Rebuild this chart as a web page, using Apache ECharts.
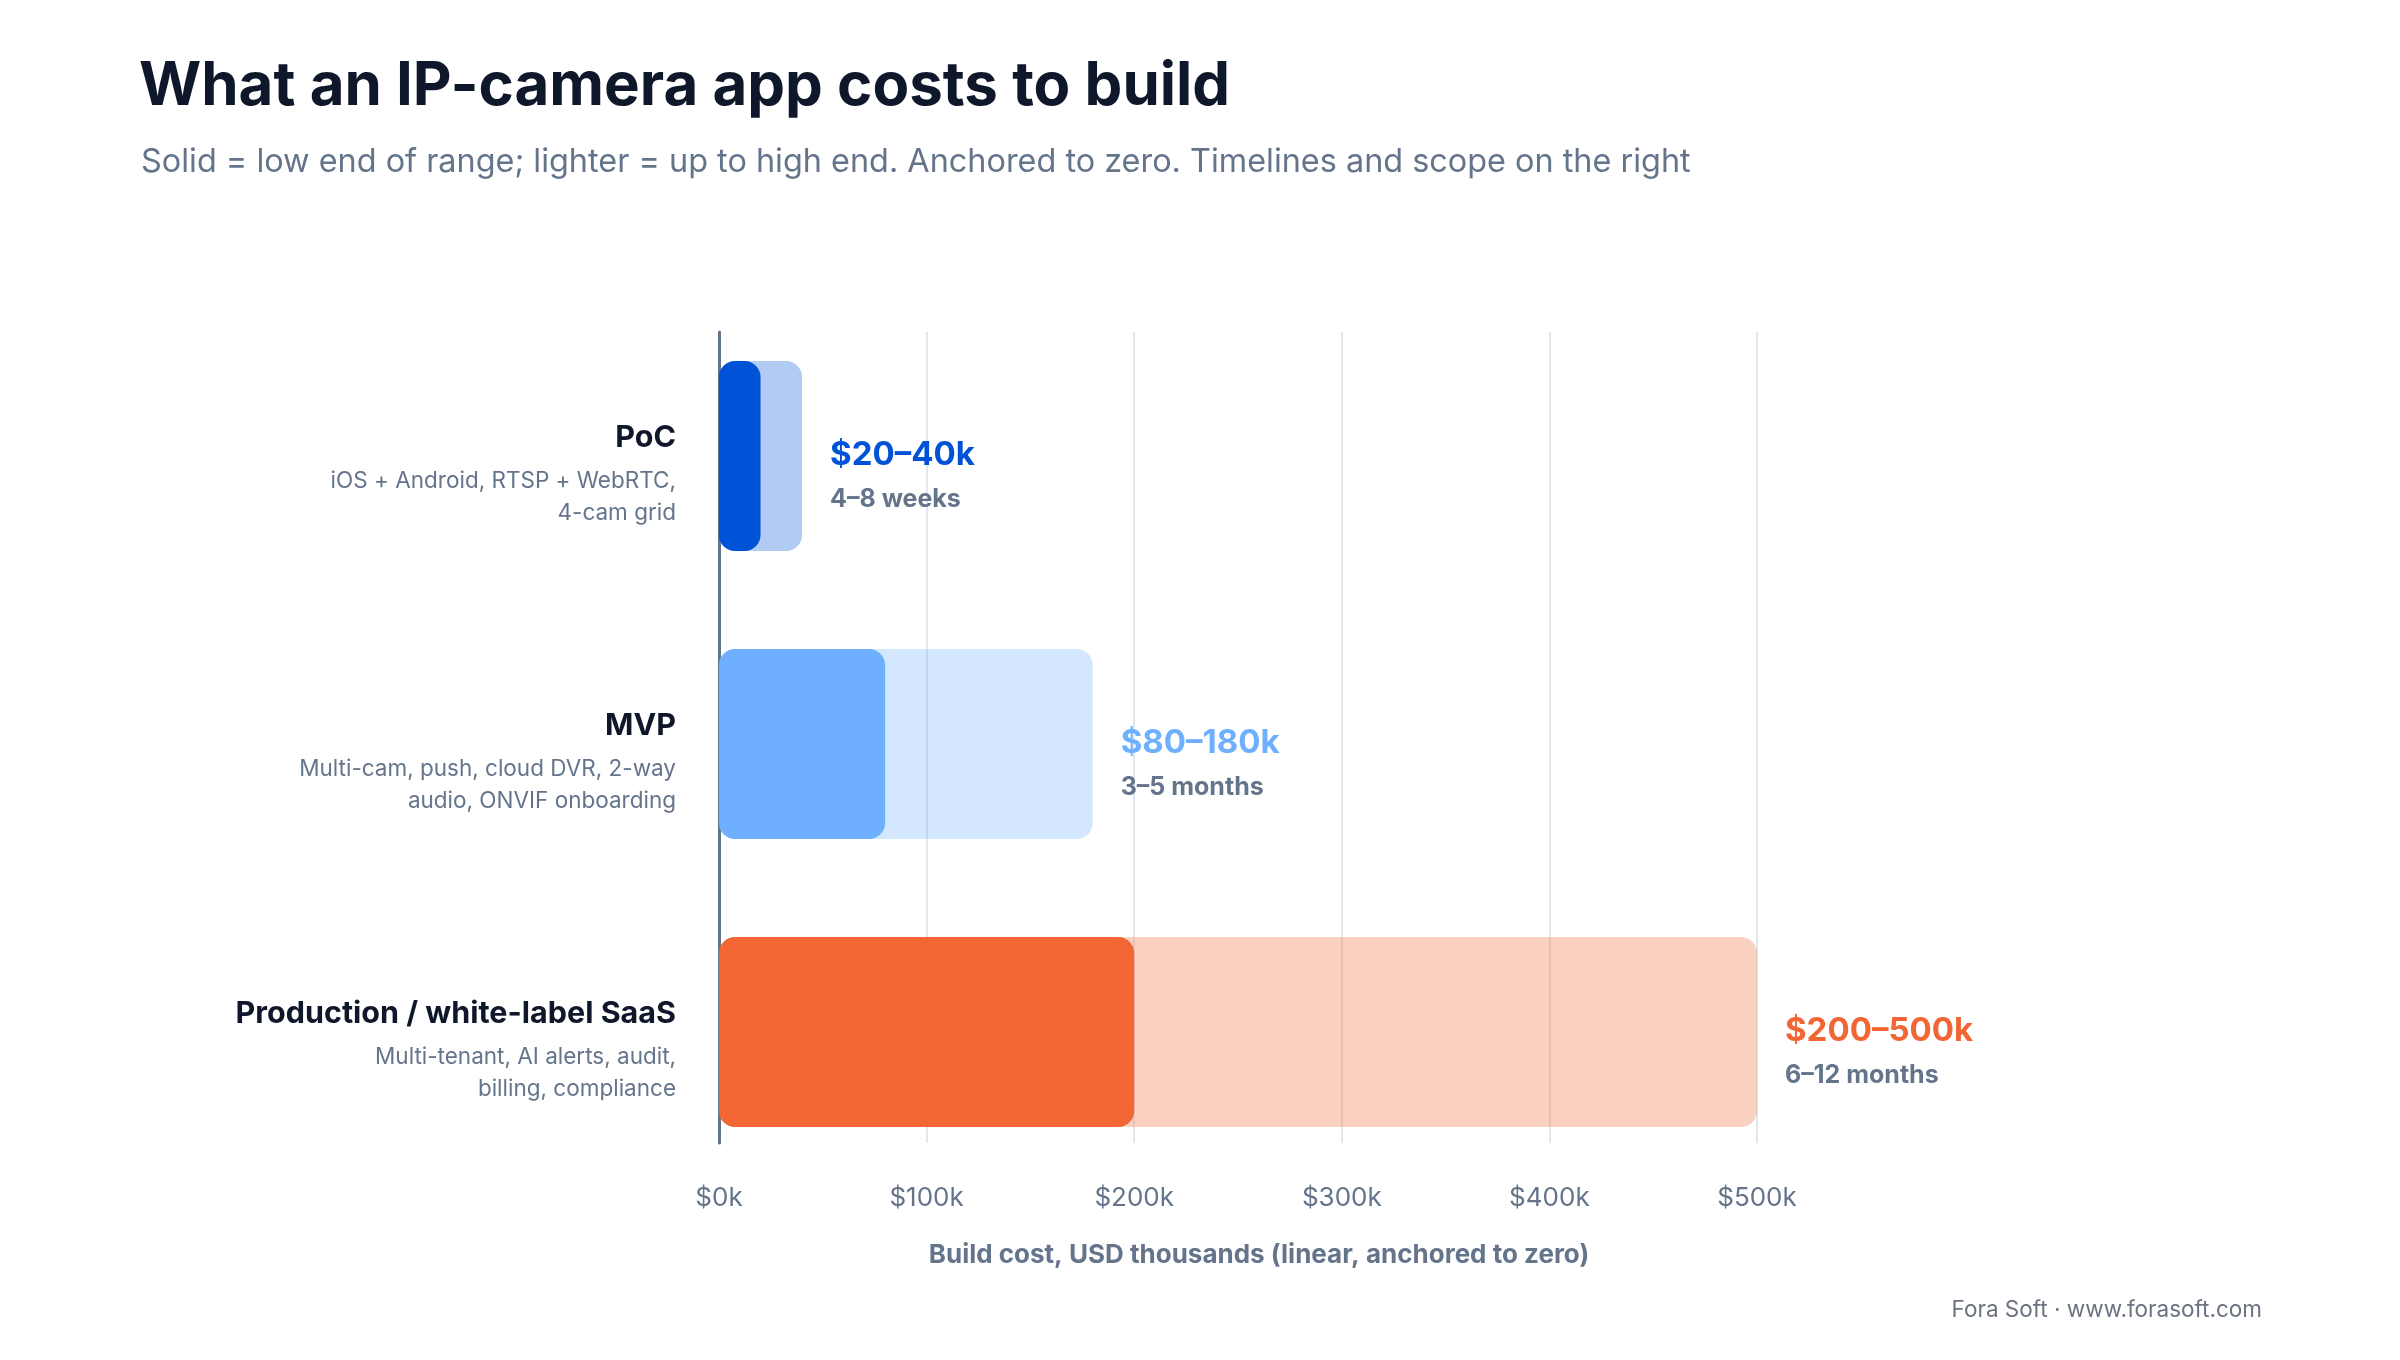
<!DOCTYPE html>
<html>
<head>
<meta charset="utf-8">
<script src="https://cdn.jsdelivr.net/npm/echarts@6/dist/echarts.min.js"></script>
<style>
  html, body { margin: 0; padding: 0; background: #ffffff; }
  #chart { width: 2400px; height: 1360px; }
</style>
</head>
<body>
<div id="chart"></div>
<script>
let stages = ['PoC', 'MVP', 'Production / white-label SaaS']
let scopes = [
    'iOS + Android, RTSP + WebRTC,\n4-cam grid',
    'Multi-cam, push, cloud DVR, 2-way\naudio, ONVIF onboarding',
    'Multi-tenant, AI alerts, audit,\nbilling, compliance'
]
let lowK = [20, 80, 200]       // solid part
let highK = [40, 180, 500]     // lighter part, up to high end
let timelines = ['4–8 weeks', '3–5 months', '6–12 months']
let stageColors = ['#0052d6', '#6eb0ff', '#f26633']

let font = 'Inter, "Noto Sans", sans-serif'
let slate = '#64748b'
let ink = '#0f172a'

// light version of a stage colour (30% over white), kept as rgba so the label stays opaque
function lighter(hex) {
    let r = parseInt(hex.slice(1, 3), 16)
    let g = parseInt(hex.slice(3, 5), 16)
    let b = parseInt(hex.slice(5, 7), 16)
    return 'rgba(' + r + ',' + g + ',' + b + ',0.3)'
}

let chart = echarts.init(document.getElementById('chart'))

// rich styles for the labels next to the bars, one per stage colour
let valueRich = {
    t: { fontFamily: font, fontSize: 25, fontWeight: 700, color: slate, lineHeight: 44 }
}
stageColors.forEach(function (c, i) {
    valueRich['v' + i] = { fontFamily: font, fontSize: 33, fontWeight: 700, color: c, lineHeight: 44 }
})

chart.setOption({
    backgroundColor: '#ffffff',
    animation: false,
    title: [
        {
            text: 'What an IP-camera app costs to build',
            left: 134, top: 52,
            textStyle: { fontFamily: font, fontSize: 60, fontWeight: 700, color: ink }
        },
        {
            text: 'Solid = low end of range; lighter = up to high end. Anchored to zero. Timelines and scope on the right',
            left: 136, top: 141,
            textStyle: { fontFamily: font, fontSize: 32.4, fontWeight: 400, color: slate }
        },
        {
            text: 'Fora Soft · www.forasoft.com',
            right: 133, top: 1294,
            textStyle: { fontFamily: font, fontSize: 22.5, fontWeight: 400, color: '#6b7280' }
        }
    ],
    grid: [
        // axis line, split lines and ticks
        { left: 719, width: 1038, top: 332, height: 811 },
        // bars
        { left: 719, width: 1038, top: 312, height: 864 }
    ],
    xAxis: [
        {
            gridIndex: 0,
            type: 'value',
            min: 0, max: 500, interval: 100,
            name: 'Build cost, USD thousands (linear, anchored to zero)',
            nameLocation: 'middle',
            nameGap: 99,
            nameTextStyle: { fontFamily: font, fontSize: 26, fontWeight: 700, color: slate, padding: [0, 0, 0, 42] },
            axisLine: { show: false },
            axisTick: { show: false },
            axisLabel: {
                margin: 42,
                fontFamily: font, fontSize: 26, color: slate,
                formatter: function (v) { return '$' + v + 'k' }
            },
            splitLine: { show: true, lineStyle: { color: '#e2e8f0', width: 2 } }
        },
        {
            gridIndex: 1,
            type: 'value',
            min: 0, max: 500, interval: 100,
            show: false
        }
    ],
    yAxis: [
        {
            gridIndex: 0,
            type: 'category',
            data: stages,
            inverse: true,
            axisLine: { show: true, lineStyle: { color: slate, width: 3 } },
            axisTick: { show: false },
            axisLabel: { show: false },
            splitLine: { show: false }
        },
        {
            gridIndex: 1,
            type: 'category',
            data: stages,
            inverse: true,
            axisLine: { show: false },
            axisTick: { show: false },
            axisLabel: {
                margin: 43,
                padding: [28, 0, 0, 0],
                formatter: function (value, idx) {
                    let lines = scopes[idx].split('\n').map(function (l) { return '{sub|' + l + '}' })
                    return '{name|' + value + '}\n' + lines.join('\n')
                },
                rich: {
                    name: { fontFamily: font, fontSize: 30.5, fontWeight: 700, color: ink, lineHeight: 54, align: 'right' },
                    sub: { fontFamily: font, fontSize: 22.5, color: slate, lineHeight: 32, align: 'right' }
                }
            }
        }
    ],
    series: [
        {
            name: 'High end',
            type: 'bar',
            xAxisIndex: 1, yAxisIndex: 1,
            barWidth: 190,
            barGap: '-100%',
            data: highK.map(function (v, i) {
                return { value: v, itemStyle: { color: lighter(stageColors[i]) } }
            }),
            itemStyle: { borderRadius: 16 },
            label: {
                show: true,
                position: 'right',
                distance: 28,
                offset: [0, 21],
                formatter: function (p) {
                    let i = p.dataIndex
                    return '{v' + i + '|$' + lowK[i] + '–' + highK[i] + 'k}\n{t|' + timelines[i] + '}'
                },
                rich: valueRich
            },
            silent: true
        },
        {
            name: 'Low end',
            type: 'bar',
            xAxisIndex: 1, yAxisIndex: 1,
            barWidth: 190,
            barGap: '-100%',
            data: lowK.map(function (v, i) {
                return { value: v, itemStyle: { color: stageColors[i] } }
            }),
            itemStyle: { borderRadius: 16 },
            silent: true
        }
    ]
})
</script>
</body>
</html>
